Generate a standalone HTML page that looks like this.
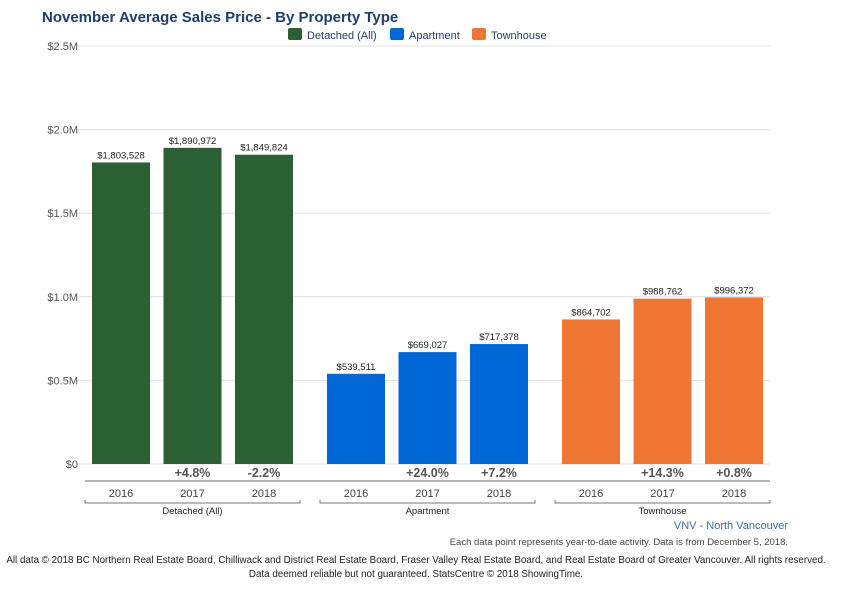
<!DOCTYPE html>
<html><head><meta charset="utf-8"><style>
body{margin:0;background:#fff;width:860px;height:584px;overflow:hidden;font-family:"Liberation Sans",Arial,sans-serif}
svg text{font-family:"Liberation Sans",Arial,sans-serif}
</style></head><body>
<svg id="c" width="860" height="584">
<text x="42" y="22" font-size="15" font-weight="bold" fill="#1f3f6b">November Average Sales Price - By Property Type</text>
<g>
<g><rect x="288" y="28" width="14" height="12" rx="2" fill="#2c5f34"/><text x="307" y="39" font-size="11" fill="#1f3f6b">Detached (All)</text></g>
<g><rect x="390" y="28" width="14" height="12" rx="2" fill="#0068d6"/><text x="409" y="39" font-size="11" fill="#1f3f6b">Apartment</text></g>
<g><rect x="472" y="28" width="14" height="12" rx="2" fill="#ef7535"/><text x="491" y="39" font-size="11" fill="#1f3f6b">Townhouse</text></g>
</g>
<g id="grid"></g><g id="bars"></g><g id="xaxis"></g>
<text x="788" y="529" font-size="11" fill="#3a6fa8" text-anchor="end">VNV - North Vancouver</text>
<text x="788" y="545" font-size="9.5" fill="#444" text-anchor="end">Each data point represents year-to-date activity. Data is from December 5, 2018.</text>
<text x="416" y="563" font-size="9.8" fill="#222" text-anchor="middle">All data © 2018 BC Northern Real Estate Board, Chilliwack and District Real Estate Board, Fraser Valley Real Estate Board, and Real Estate Board of Greater Vancouver. All rights reserved.</text>
<text x="416" y="577" font-size="9.8" fill="#222" text-anchor="middle">Data deemed reliable but not guaranteed. StatsCentre © 2018 ShowingTime.</text>
</svg>
<script>
const groups=["Detached (All)","Apartment","Townhouse"];
const years=["2016","2017","2018"];
const detached=[1803528,1890972,1849824];
const apartment=[539511,669027,717378];
const townhouse=[864702,988762,996372];
const changes=[["","+4.8%","-2.2%"],["","+24.0%","+7.2%"],["","+14.3%","+0.8%"]];
const yTicks=[0,500000,1000000,1500000,2000000,2500000];
const yTickLabels=["$0","$0.5M","$1.0M","$1.5M","$2.0M","$2.5M"];
const series=[detached,apartment,townhouse];
const colors=["#2c5f34","#0068d6","#ef7535"];
const NS="http://www.w3.org/2000/svg";
const y0=464,yTop=46,yMax=2500000;
const y=v=>y0-(v/yMax)*(y0-yTop);
const gStart=[85,320,555],gW=215;
const x=(g,i)=>gStart[g]+7+i*71.5;
function mk(t,a,p,txt){const e=document.createElementNS(NS,t);for(const k in a)e.setAttribute(k,a[k]);if(txt!==undefined)e.textContent=txt;p.appendChild(e);return e;}
const grid=document.getElementById('grid'),bars=document.getElementById('bars'),xa=document.getElementById('xaxis');
yTicks.forEach((t,i)=>{
 const l=mk('line',{x1:76,x2:770,y1:y(t),y2:y(t),stroke:'#e0e0e0','stroke-width':1},grid);
 
 
 const tx=mk('text',{x:78,y:y(t)+4,'font-size':11,fill:'#555','text-anchor':'end'},grid,yTickLabels[i]);
 
 
});
series.forEach((s,g)=>{
 s.forEach((v,i)=>{
  const bx=x(g,i);
  const r=mk('rect',{x:bx,y:y(v),width:58,height:y0-y(v),fill:colors[g]},bars);
  
  
  const lb=mk('text',{x:bx+29,y:y(v)-4,'font-size':9.5,fill:'#222','text-anchor':'middle'},bars,'$'+v.toLocaleString('en-US'));
  
  
  if(changes[g][i]){const c=mk('text',{x:bx+29,y:477,'font-size':12.5,'font-weight':'bold',fill:'#555','text-anchor':'middle'},xa,changes[g][i]);
   
   }
  const yl=mk('text',{x:bx+29,y:497,'font-size':11,fill:'#444','text-anchor':'middle'},xa,years[i]);
  
  
 });
 const gx=gStart[g];
 const br=mk('path',{d:`M${gx} 500V503H${gx+gW}V500`,stroke:'#777',fill:'none','stroke-width':1},xa);
 
 
 const gl=mk('text',{x:gx+gW/2,y:514,'font-size':9.5,fill:'#222','text-anchor':'middle'},xa,groups[g]);
 
 
});
const ax=mk('line',{x1:85,x2:770,y1:481,y2:481,stroke:'#888','stroke-width':1.2},xa);


</script>
</body></html>
